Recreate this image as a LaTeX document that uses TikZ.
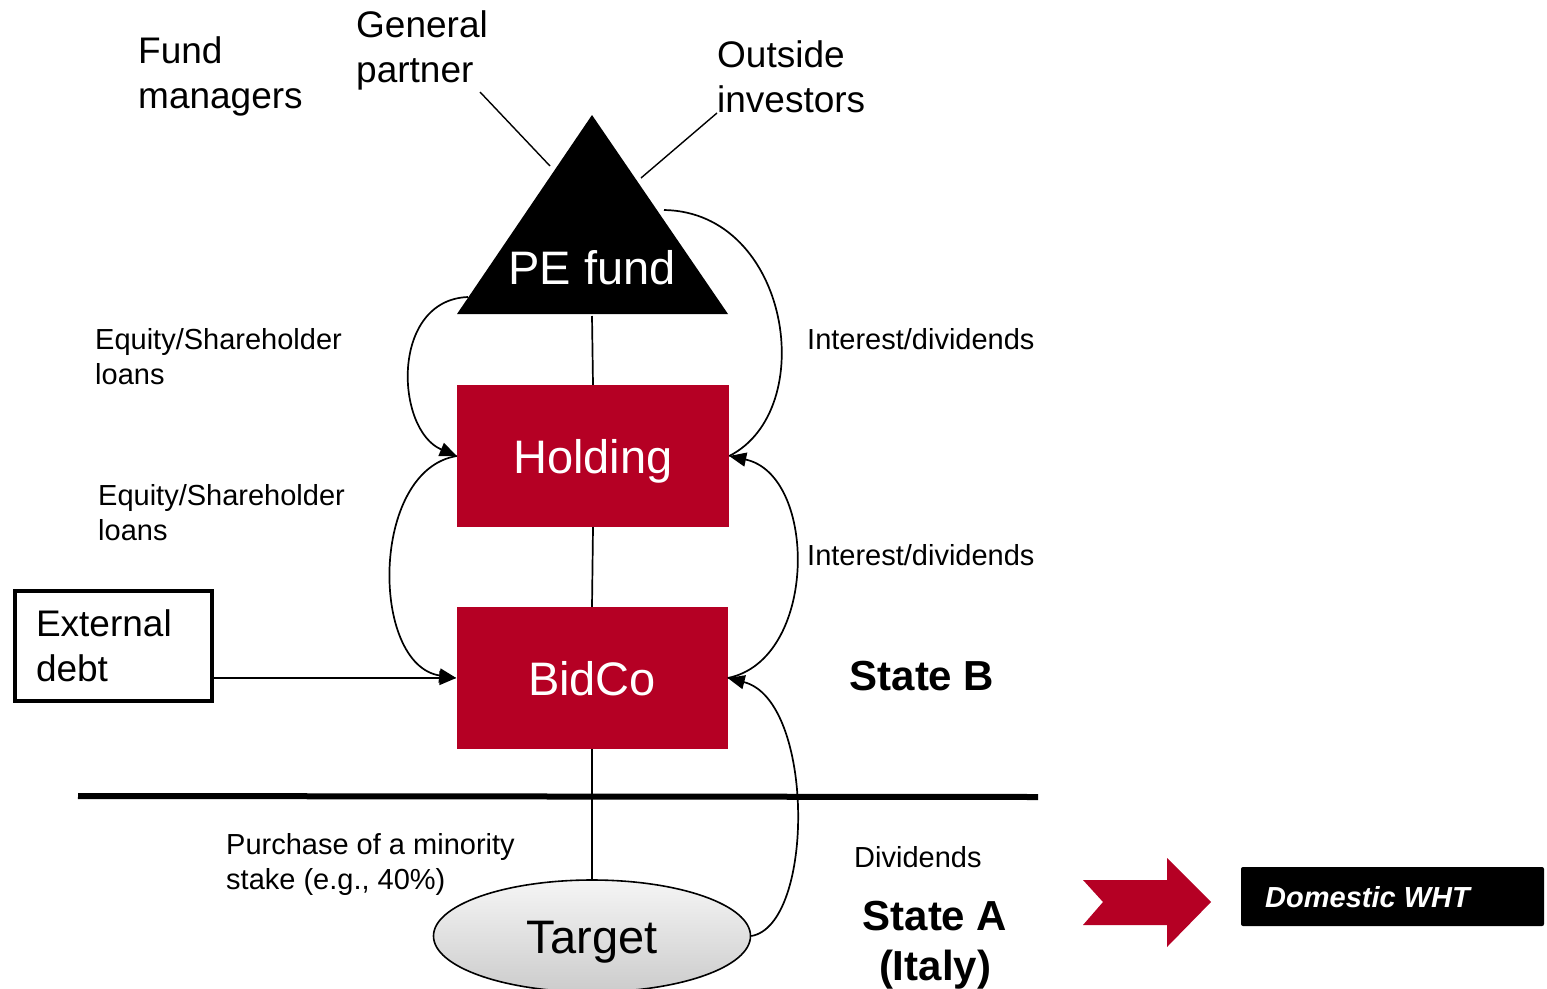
\documentclass[tikz,border=0pt]{standalone}
\usepackage{fontspec}
\setmainfont{Liberation Sans}
\usetikzlibrary{arrows.meta,shapes.geometric}
\definecolor{pered}{RGB}{181,0,36}
\tikzset{
  big/.style={font=\fontsize{37}{45}\selectfont, inner sep=0pt, align=left, anchor=base west},
  small/.style={font=\fontsize{29}{35}\selectfont, inner sep=0pt, align=left, anchor=base west},
  statelbl/.style={font=\fontsize{42}{50}\selectfont\bfseries, inner sep=0pt, align=center, anchor=base},
  entity/.style={fill=pered, text=white, font=\fontsize{47}{56}\selectfont, inner sep=0pt, text height=40pt, text depth=6pt},
  conn/.style={line width=1.7pt},
  flow/.style={line width=1.7pt, -{Triangle[length=17pt,width=14pt]}},
}
\begin{document}
\begin{tikzpicture}[x=1pt,y=-1pt]
\useasboundingbox (0,0) rectangle (1547,988);

% PE fund triangle
\coordinate (apex) at (592,115);
\coordinate (peBL) at (457,314);
\coordinate (peBR) at (728,314);
\fill[black] (apex) -- (peBL) -- (peBR) -- cycle;
\node[font=\fontsize{47}{56}\selectfont, text=white, inner sep=0pt, anchor=base] (pe) at (592,284) {PE fund};
\coordinate (pebase) at (592,316);
\coordinate (peL) at (468,297);
\coordinate (peR) at (664,210);
\coordinate (peGP) at (550,166);
\coordinate (peOI) at (641,178);

% entities
\node[entity, minimum width=272pt, minimum height=142pt] (holding) at (593,456) {Holding};
\node[entity, minimum width=271pt, minimum height=142pt] (bidco) at (592,678) {BidCo};
\node[ellipse, draw, line width=1.6pt, top color=gray!8, bottom color=gray!40,
      minimum width=317pt, minimum height=112pt, inner sep=0pt, text height=40pt, text depth=6pt,
      font=\fontsize{47}{56}\selectfont] (target) at (592,936) {Target};

% external debt
\node[draw, line width=4pt, minimum width=197pt, minimum height=110pt, text width=154pt,
      inner xsep=21pt, align=left, font=\fontsize{37}{45}\selectfont] (ext) at (113,645.5) {External\\debt};

% top labels
\node[big] (fm) at (138,108) {Fund\\managers};
\node[big] (gp) at (356,82) {General\\partner};
\node[big] (oi) at (717,112) {Outside\\investors};
\coordinate (gpS) at (480,92);
\coordinate (oiS) at (717,113);
\draw[line width=1.4pt] (gpS) -- (peGP);
\draw[line width=1.4pt] (oiS) -- (peOI);

% vertical connections
\draw[conn] (pebase) -- (holding.north);
\draw[conn] (holding.south) -- (bidco.north);
\draw[conn] (bidco.south) -- (target.north);

% separator
\coordinate (sepL) at (78,796);
\coordinate (sepR) at (1038,797);
\draw[line width=6pt] (sepL) -- (sepR);

% left flows
\draw[flow] (peL) .. controls (390,300) and (395,430) .. (holding.west);
\draw[flow] (holding.west) .. controls (370,470) and (370,665) .. (bidco.west);
\draw[flow] (ext.east |- bidco.west) -- (bidco.west);

% right flows
\draw[conn] (peR) .. controls (790,212) and (820,410) .. (holding.east);
\draw[flow] (bidco.east) .. controls (818,660) and (818,475) .. (holding.east);
\draw[flow] (target.east) .. controls (815,925) and (815,700) .. (bidco.east);

% flow labels
\node[small] (eq1) at (95,384) {Equity/Shareholder\\loans};
\node[small] (eq2) at (98,540) {Equity/Shareholder\\loans};
\node[small] (id1) at (807,349) {Interest/dividends};
\node[small] (id2) at (807,565) {Interest/dividends};
\node[small] (div) at (854,867) {Dividends};
\node[small] (pur) at (226,889) {Purchase of a minority\\stake (e.g., 40\%)};

% states
\node[statelbl] (stB) at (922,690) {State B};
\node[statelbl] (stA) at (935,980) {State A\\(Italy)};

% red chevron arrow
\fill[pered] (1083,880) -- (1167,880) -- (1167,858) -- (1211,902) -- (1167,947) -- (1167,925) -- (1083,925) -- (1103,902) -- cycle;
\coordinate (chev) at (1211,902);

% domestic WHT
\node[fill=black, rounded corners=2pt, minimum width=303pt, minimum height=59pt, inner sep=0pt] (whtbox) at (1392.5,896.5) {};
\node[text=white, font=\fontsize{29}{34}\selectfont\bfseries\itshape, inner sep=0pt, anchor=base west] (wht) at (1265,907) {Domestic WHT};
\end{tikzpicture}
\end{document}
